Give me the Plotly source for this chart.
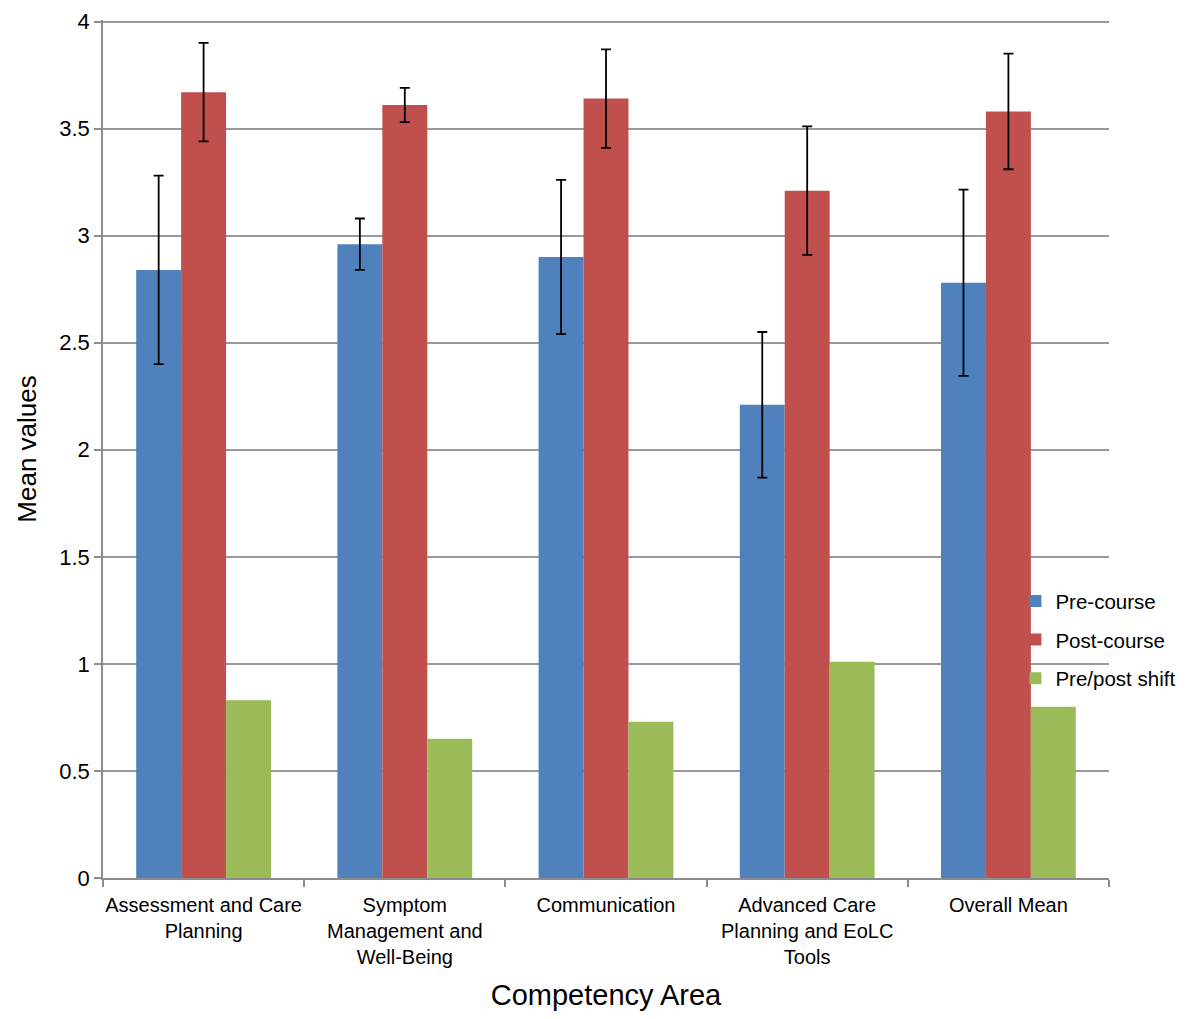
import plotly.graph_objects as go

# values
categories = [
    "Assessment and Care<br>Planning",
    "Symptom<br>Management and<br>Well-Being",
    "Communication",
    "Advanced Care<br>Planning and EoLC<br>Tools",
    "Overall Mean",
]
pre_course = [2.84, 2.96, 2.90, 2.21, 2.78]
pre_course_err = [0.44, 0.12, 0.36, 0.34, 0.435]
post_course = [3.67, 3.61, 3.64, 3.21, 3.58]
post_course_err = [0.23, 0.08, 0.23, 0.30, 0.27]
pre_post_shift = [0.83, 0.65, 0.73, 1.01, 0.80]

FONT = "Liberation Sans, Arial, Helvetica, sans-serif"
err_style = dict(type="data", color="black", thickness=1.8, width=5)

fig = go.Figure()
fig.add_trace(go.Bar(
    name="Pre-course", x=categories, y=pre_course, legendgroup="a",
    marker=dict(color="#4F81BD", line=dict(width=0)),
    error_y=dict(array=pre_course_err, **err_style),
))
fig.add_trace(go.Bar(
    name="Post-course", x=categories, y=post_course, legendgroup="b",
    marker=dict(color="#C0504D", line=dict(width=0)),
    error_y=dict(array=post_course_err, **err_style),
))
fig.add_trace(go.Bar(
    name="Pre/post shift", x=categories, y=pre_post_shift, legendgroup="c",
    marker=dict(color="#9BBB59", line=dict(width=0)),
))

# sized so the page (with its 8px body margin) fits the window
fig.update_layout(
    width=1184,
    height=1003,
    barmode="group",
    bargap=0.33,
    bargroupgap=0,
    plot_bgcolor="white",
    paper_bgcolor="white",
    font=dict(family=FONT, size=20, color="black"),
    margin=dict(l=95, r=67, t=12, b=133),
    legend=dict(
        x=0.907, y=0.346, xanchor="left", yanchor="top",
        font=dict(size=20.5), bgcolor="rgba(0,0,0,0)",
        tracegroupgap=9, itemwidth=30,
    ),
    xaxis=dict(
        title=dict(text="Competency Area", font=dict(size=29), standoff=29),
        automargin=False, tickangle=0, ticklabelstandoff=8,
        showline=True, linecolor="#8c8c8c", linewidth=1.5,
        ticks="outside", tickson="boundaries", ticklen=7,
        tickcolor="#8c8c8c", tickwidth=1.5,
        showgrid=False,
    ),
    yaxis=dict(
        title=dict(text="Mean values", font=dict(size=26), standoff=15),
        automargin=False, ticklabeloverflow="allow",
        range=[0, 4.007], tickvals=[0, 0.5, 1, 1.5, 2, 2.5, 3, 3.5, 4],
        tickfont=dict(size=22),
        showline=True, linecolor="#8c8c8c", linewidth=1.5,
        ticks="outside", ticklen=7, tickcolor="#8c8c8c", tickwidth=1.5,
        showgrid=True, gridcolor="#999999", gridwidth=1.5,
        zeroline=False,
    ),
)

fig.write_html("out.html")
